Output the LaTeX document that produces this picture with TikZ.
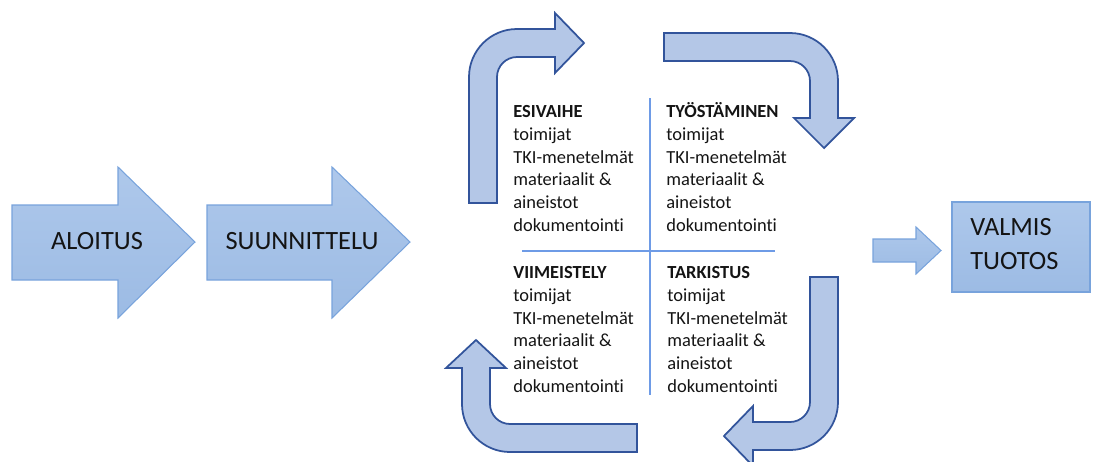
\documentclass[tikz,border=0pt]{standalone}
\usepackage{fontspec}
\setmainfont{Carlito}[Ligatures={NoCommon}]
\definecolor{arrfillT}{RGB}{174,200,235}
\definecolor{arrfillB}{RGB}{156,187,228}
\definecolor{arrline}{RGB}{120,163,220}
\definecolor{curvefill}{RGB}{180,199,231}
\definecolor{curveline}{RGB}{50,84,155}
\definecolor{divline}{RGB}{110,155,230}
\definecolor{txt}{RGB}{20,20,20}
\tikzset{
  bigarrow/.style={top color=arrfillT, bottom color=arrfillB, draw=arrline, line width=0.6pt, line join=miter},
  curvearrow/.style={fill=curvefill, draw=curveline, line width=1pt, line join=miter},
  divider/.style={draw=divline, line width=0.6pt},
  bigtext/.style={font=\fontsize{15}{19.3}\selectfont, text=txt, inner sep=0pt},
  quadtext/.style={font=\fontsize{10.5}{13}\selectfont, text=txt, inner sep=0pt, align=left, anchor=north west}
}
\begin{document}
\begin{tikzpicture}[x=0.02cm, y=-0.02cm]
\useasboundingbox (0,0) rectangle (1093,461);
% straight arrows
\draw[bigarrow] (12,205) -- (118,205) -- (118,167) -- (195,242) -- (118,318) -- (118,280) -- (12,280) -- cycle;
\draw[bigarrow] (207,205) -- (332,205) -- (332,167) -- (410,242) -- (332,318) -- (332,280) -- (207,280) -- cycle;
\node[bigtext] (aloitus) at (97,241) {ALOITUS};
\node[bigtext] (suunn) at (302,241) {SUUNNITTELU};
% curved arrows
\draw[curvearrow] (469,203) -- (469,77) .. controls (469,50.5) and (490.5,29) .. (517,29) -- (555,29) -- (555,13) -- (584,43) -- (555,73) -- (555,57) -- (517,57) .. controls (506,57) and (497,66) .. (497,77) -- (497,203) -- cycle;
\draw[curvearrow] (664,33) -- (790,33) .. controls (816.5,33) and (838,54.5) .. (838,81) -- (838,118) -- (854,118) -- (824,148) -- (794,118) -- (810,118) -- (810,81) .. controls (810,70) and (801,61) .. (790,61) -- (664,61) -- cycle;
\draw[curvearrow] (810,277) -- (838,277) -- (838,402) .. controls (838,428.5) and (816.5,450) .. (790,450) -- (753,450) -- (753,466) -- (724,436) -- (753,406) -- (753,422) -- (790,422) .. controls (801,422) and (810,413) .. (810,402) -- cycle;
\draw[curvearrow] (637,424) -- (510,424) .. controls (499,424) and (490,415) .. (490,404) -- (490,368) -- (506,368) -- (476,340) -- (446,368) -- (462,368) -- (462,404) .. controls (462,430.5) and (483.5,452) .. (510,452) -- (637,452) -- cycle;
% dividers
\draw[divider] (650,98) -- (650,395);
\draw[divider] (522,251) -- (775,251);
% quadrant texts
\node[quadtext] (esivaihe) at (513,101) {\strut\textbf{ESIVAIHE}\\toimijat\\TKI-menetelmät\\materiaalit \&\\aineistot\\dokumentointi};
\node[quadtext] (tyost) at (666,101) {\strut\textbf{TYÖSTÄMINEN}\\toimijat\\TKI-menetelmät\\materiaalit \&\\aineistot\\dokumentointi};
\node[quadtext] (viim) at (513,262) {\strut\textbf{VIIMEISTELY}\\toimijat\\TKI-menetelmät\\materiaalit \&\\aineistot\\dokumentointi};
\node[quadtext] (tark) at (667,262) {\strut\textbf{TARKISTUS}\\toimijat\\TKI-menetelmät\\materiaalit \&\\aineistot\\dokumentointi};
% final
\draw[bigarrow] (873,239) -- (916,239) -- (916,227) -- (941,250.5) -- (916,274) -- (916,262) -- (873,262) -- cycle;
\draw[bigarrow] (952,202) rectangle (1090,292);
\node[bigtext, align=left, anchor=north west] (valmis) at (970,211) {\strut VALMIS\\TUOTOS};
\end{tikzpicture}
\end{document}
